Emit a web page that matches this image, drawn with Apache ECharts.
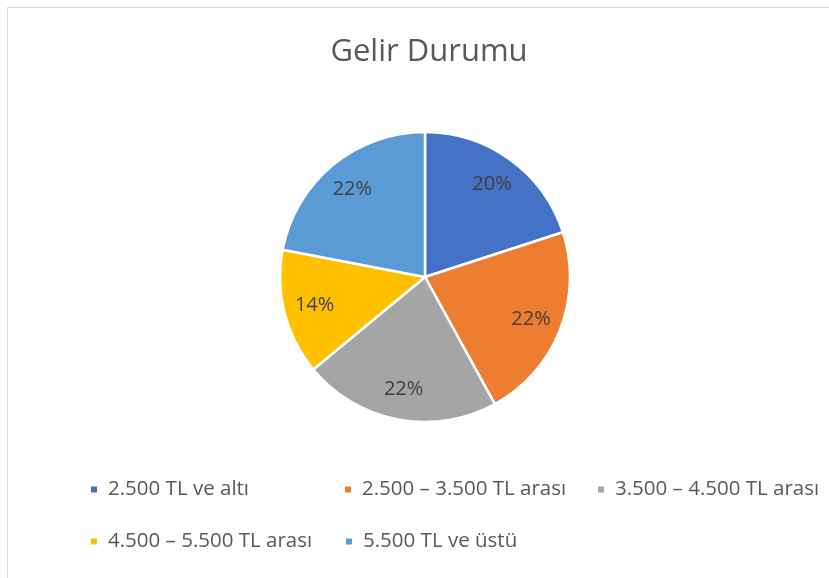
<!DOCTYPE html>
<html>
<head>
<meta charset="utf-8">
<script src="https://cdn.jsdelivr.net/npm/echarts@6/dist/echarts.min.js"></script>
<style>
  html, body { margin: 0; padding: 0; background: #fff; }
  #frame {
    position: absolute; left: 7px; top: 7px; width: 840px; height: 600px;
    border: 1px solid #d9d9d9; pointer-events: none;
  }
  #chart { position: absolute; left: 0; top: 0; width: 829px; height: 578px; }
</style>
</head>
<body>
<div id="chart"></div>
<div id="frame"></div>
<script>
// gelir gruplari ve yuzdeleri
const categories = [
  "2.500 TL ve altı",
  "2.500 – 3.500 TL arası",
  "3.500 – 4.500 TL arası",
  "4.500 – 5.500 TL arası",
  "5.500 TL ve üstü",
];
const values = [20, 22, 22, 14, 22];
const colors = ["#4472C4", "#ED7D31", "#A5A5A5", "#FFC000", "#5B9BD5"];

const pieData = categories.map((name, i) => ({
  name: name,
  value: values[i],
  itemStyle: { color: colors[i] },
}));

// legend slots (Excel style, equal columns)
const legendSlots = [
  { left: 89, top: 479 },
  { left: 343, top: 479 },
  { left: 596, top: 479 },
  { left: 89, top: 531 },
  { left: 344, top: 531 },
];

const font = "'Open Sans', 'Liberation Sans', sans-serif";

let myChart = echarts.init(document.getElementById("chart"));
myChart.setOption({
  backgroundColor: "transparent",
  animation: false,
  title: {
    text: "Gelir Durumu",
    left: 424,
    textAlign: "center",
    top: 32,
    textStyle: {
      fontFamily: font,
      fontSize: 31,
      fontWeight: "normal",
      color: "#595959",
    },
  },
  legend: categories.map((name, i) => ({
    data: [name],
    left: legendSlots[i].left,
    top: legendSlots[i].top,
    padding: 0,
    icon: "rect",
    itemWidth: 8,
    itemHeight: 8,
    selectedMode: false,
    textStyle: {
      fontFamily: font,
      fontSize: 20.5,
      color: "#595959",
      padding: [0, 0, 0, 5],
    },
  })),
  series: [
    {
      name: "Gelir Durumu",
      type: "pie",
      center: [425, 277],
      radius: [0, 145],
      startAngle: 90,
      percentPrecision: 0,
      itemStyle: { borderColor: "#fff", borderWidth: 2.5 },
      label: { show: false },
      labelLine: { show: false },
      data: pieData,
    },
    {
      // sadece etiketler icin seffaf halka
      name: "etiket",
      type: "pie",
      center: [425, 277],
      radius: [77, 145],
      startAngle: 90,
      percentPrecision: 0,
      silent: true,
      itemStyle: { color: "transparent", borderWidth: 0 },
      label: {
        show: true,
        position: "inside",
        formatter: "{d}%",
        fontFamily: font,
        fontSize: 20,
        color: "#404040",
      },
      labelLine: { show: false },
      emphasis: { disabled: true },
      data: categories.map((name, i) => ({ name: name, value: values[i] })),
    },
  ],
});
</script>
</body>
</html>
